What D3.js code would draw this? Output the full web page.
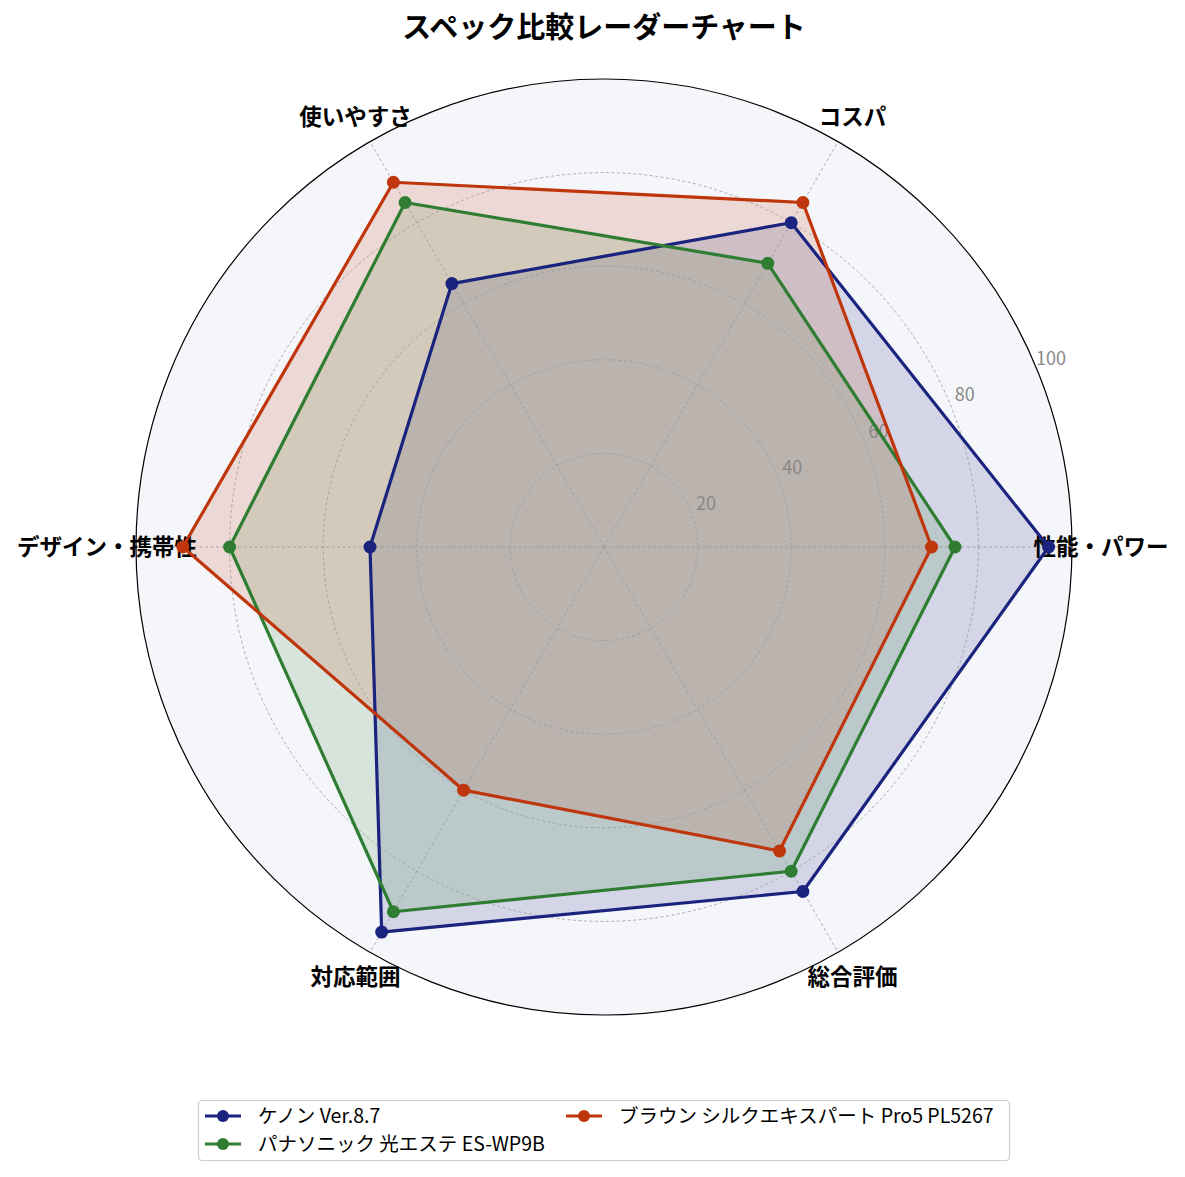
<!DOCTYPE html>
<html lang="ja">
<head>
  <meta charset="UTF-8">
  <title>スペック比較レーダーチャート</title>
  <script src="https://d3js.org/d3.v7.min.js"></script>
  <style>
    body {
      margin: 0;
      background: #ffffff;
      font-family: 'Noto Sans CJK JP', 'Noto Sans', sans-serif;
    }
    svg { display: block; }
  </style>
</head>
<body>
  <svg id="chart" width="1185" height="1177"></svg>

  <script>
    // data
    const axes = ["性能・パワー", "コスパ", "使いやすさ", "デザイン・携帯性", "対応範囲", "総合評価"];
    const seriesNames = ["ケノン Ver.8.7", "パナソニック 光エステ ES-WP9B", "ブラウン シルクエキスパート Pro5 PL5267"];
    const kenonValues = [95, 80, 65, 50, 95, 85];
    const panaValues = [75, 70, 85, 80, 90, 80];
    const braunValues = [70, 85, 90, 90, 60, 75];
    const gridTicks = [20, 40, 60, 80, 100];
    const colors = ["#1a237e", "#2e7d32", "#bf360c"];

    const allValues = [kenonValues, panaValues, braunValues];

    const svg = d3.select("#chart");
    const cx = 604, cy = 547, R = 468;

    const r = d3.scaleLinear().domain([0, 100]).range([0, R]);
    // angle per axis, counter-clockwise from the right
    const angle = d3.scalePoint().domain(d3.range(axes.length + 1)).range([0, 2 * Math.PI]);

    const px = (i, v) => cx + r(v) * Math.cos(angle(i));
    const py = (i, v) => cy - r(v) * Math.sin(angle(i));

    // title
    svg.append("text")
      .attr("x", cx).attr("y", 38)
      .attr("text-anchor", "middle")
      .style("font-size", "29px")
      .style("font-weight", "bold")
      .text("スペック比較レーダーチャート");

    // background disc
    svg.append("circle")
      .attr("cx", cx).attr("cy", cy).attr("r", R)
      .attr("fill", "#f5f6fa");

    // fills first (under grid)
    const lineGen = d3.line()
      .x((d, i) => px(i, d))
      .y((d, i) => py(i, d))
      .curve(d3.curveLinearClosed);

    allValues.forEach((vals, k) => {
      svg.append("path")
        .attr("d", lineGen(vals))
        .attr("fill", colors[k])
        .attr("fill-opacity", 0.15)
        .attr("stroke", "none");
    });

    // grid rings
    const grid = svg.append("g")
      .attr("fill", "none")
      .attr("stroke", "#999")
      .attr("stroke-width", 0.8)
      .attr("stroke-dasharray", "3,2.5");

    grid.selectAll("circle")
      .data(gridTicks.slice(0, -1))
      .join("circle")
      .attr("cx", cx).attr("cy", cy)
      .attr("r", d => r(d));

    grid.selectAll("line")
      .data(axes)
      .join("line")
      .attr("x1", cx).attr("y1", cy)
      .attr("x2", (d, i) => px(i, 100))
      .attr("y2", (d, i) => py(i, 100));

    // outer circle
    svg.append("circle")
      .attr("cx", cx).attr("cy", cy).attr("r", R)
      .attr("fill", "none")
      .attr("stroke", "#000")
      .attr("stroke-width", 1.2);

    // radial tick labels at ~22.5deg
    const la = 22.8 * Math.PI / 180;
    svg.append("g")
      .selectAll("text")
      .data(gridTicks)
      .join("text")
      .attr("x", d => cx + (r(d) + 17) * Math.cos(la))
      .attr("y", d => cy - (r(d) + 17) * Math.sin(la) + 6)
      .attr("text-anchor", "middle")
      .style("font-size", "18px")
      .style("fill", "#888")
      .text(d => d);

    // axis labels
    svg.append("g")
      .selectAll("text")
      .data(axes)
      .join("text")
      .attr("x", (d, i) => cx + 497 * Math.cos(angle(i)))
      .attr("y", (d, i) => cy - 497 * Math.sin(angle(i)) + 8)
      .attr("text-anchor", "middle")
      .style("font-size", "22.5px")
      .style("font-weight", "bold")
      .text(d => d);

    // lines + markers
    allValues.forEach((vals, k) => {
      svg.append("path")
        .attr("d", lineGen(vals))
        .attr("fill", "none")
        .attr("stroke", colors[k])
        .attr("stroke-width", 3.2)
        .attr("stroke-linejoin", "round");

      svg.append("g")
        .selectAll("circle")
        .data(vals)
        .join("circle")
        .attr("cx", (d, i) => px(i, d))
        .attr("cy", (d, i) => py(i, d))
        .attr("r", 6.5)
        .attr("fill", colors[k]);
    });

    // legend
    const legend = svg.append("g");
    legend.append("rect")
      .attr("x", 198.5).attr("y", 1100.5)
      .attr("width", 811).attr("height", 60)
      .attr("rx", 4)
      .attr("fill", "#fff")
      .attr("stroke", "#ccc")
      .attr("stroke-width", 1.2);

    const legPos = [[205, 1116], [205, 1144], [566, 1116]];
    seriesNames.forEach((name, k) => {
      const [lx, ly] = legPos[k];
      const item = legend.append("g").attr("transform", `translate(${lx},${ly})`);
      item.append("line")
        .attr("x1", 0).attr("x2", 36)
        .attr("y1", 0).attr("y2", 0)
        .attr("stroke", colors[k])
        .attr("stroke-width", 3.2);
      item.append("circle")
        .attr("cx", 18).attr("cy", 0).attr("r", 6)
        .attr("fill", colors[k]);
      item.append("text")
        .attr("x", 53).attr("y", 7)
        .style("font-size", "19.5px")
        .text(name);
    });
  </script>
</body>
</html>
